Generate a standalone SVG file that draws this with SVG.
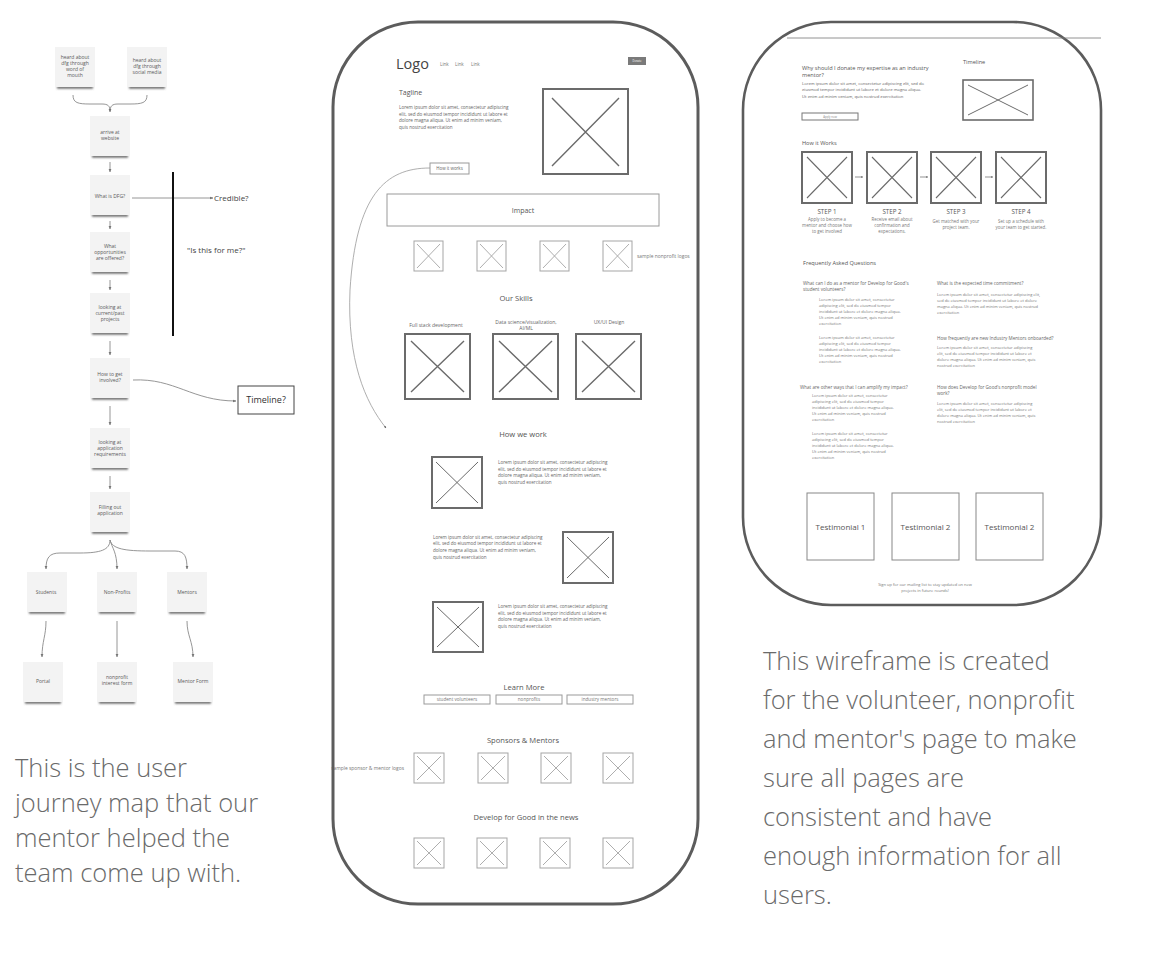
<svg xmlns="http://www.w3.org/2000/svg" width="1160" height="962" viewBox="0 0 1160 962">
<style>
text{font-family:"Open Sans","Liberation Sans",sans-serif;fill:#555}
.nt{font-size:5px;text-anchor:middle;fill:#5a5a5a}
.note{fill:#f3f3f3}
.sh{fill:#555;filter:url(#blur)}
.con{fill:none;stroke:#8a8a8a;stroke-width:0.9}
.frame{fill:none;stroke:#5c5c5c;stroke-width:3}
.b2{fill:#fff;stroke:#6b6b6b;stroke-width:2}
.x2{stroke:#6b6b6b;stroke-width:1.4}
.b1{fill:#fff;stroke:#a5a5a5;stroke-width:1}
.x1{stroke:#a5a5a5;stroke-width:0.9}
.box{fill:#fff;stroke:#9a9a9a;stroke-width:1}
.lo{font-size:4.6px;fill:#666}
.lo2{font-size:4.2px;fill:#666}
.lo3{font-size:4px;fill:#777}
.q{font-size:4.6px;fill:#666}
.h{font-size:7.6px;text-anchor:middle;fill:#555}
.s5{font-size:5px;fill:#666}
.cap{font-family:"Open Sans","Liberation Sans",sans-serif;font-weight:300;font-size:25.5px;fill:#6a6a6a}
.mid{text-anchor:middle}
</style>
<defs>
<filter id="blur" x="-20%" y="-200%" width="140%" height="500%"><feGaussianBlur stdDeviation="0.9"/></filter>
<marker id="ah" viewBox="0 0 10 10" refX="9" refY="5" markerWidth="4" markerHeight="4" orient="auto"><path d="M0,1 L10,5 L0,9 Z" fill="#777"/></marker>
<marker id="ahs" viewBox="0 0 10 10" refX="9" refY="5" markerWidth="3" markerHeight="3" orient="auto"><path d="M0,1 L10,5 L0,9 Z" fill="#555"/></marker>
</defs>
<rect width="1160" height="962" fill="#fff"/>

<!-- Journey map connectors -->
<g id="connectors">
<path class="con" d="M73,95 C73,103 78,104 90,104 L102,104 C108,104 110,106 110,111"/>
<path class="con" d="M147,95 C147,103 142,104 130,104 L118,104 C112,104 110,106 110,112" marker-end="url(#ah)"/>
<path class="con" d="M110,162 L110,172" marker-end="url(#ah)"/>
<path class="con" d="M110,221 L110,229" marker-end="url(#ah)"/>
<path class="con" d="M110,280 L110,290" marker-end="url(#ah)"/>
<path class="con" d="M110,341 L110,355" marker-end="url(#ah)"/>
<path class="con" d="M110,406 L110,425" marker-end="url(#ah)"/>
<path class="con" d="M110,476 L110,489" marker-end="url(#ah)"/>
<path class="con" d="M110,540 C110,550 100,553 80,553 L60,553 C49,553 46,558 46,569" marker-end="url(#ah)"/>
<path class="con" d="M110,540 C112,548 117,552 117,569" marker-end="url(#ah)"/>
<path class="con" d="M110,540 C112,549 125,551 150,551 L175,551 C185,551 187,557 187,569" marker-end="url(#ah)"/>
<path class="con" d="M46,621 C46,636 42,641 42,657" marker-end="url(#ah)"/>
<path class="con" d="M117,621 L117,657" marker-end="url(#ah)"/>
<path class="con" d="M187,621 C187,636 193,641 193,657" marker-end="url(#ah)"/>
<path class="con" d="M133,380 C175,378 192,401 236,401" marker-end="url(#ah)"/>
<path class="con" d="M132,198 L213,198" marker-end="url(#ah)"/>
<path d="M430,168 C385,168 356,195 350,290 C347,360 365,402 386,428" fill="none" stroke="#999" stroke-width="0.8" marker-end="url(#ahs)"/>
<path d="M855,177 L863,177" stroke="#666" stroke-width="0.7" marker-end="url(#ahs)"/>
<path d="M920,177 L928,177" stroke="#666" stroke-width="0.7" marker-end="url(#ahs)"/>
<path d="M985,177 L993,177" stroke="#666" stroke-width="0.7" marker-end="url(#ahs)"/>
</g>

<!-- Journey map nodes -->
<g id="n-word"><rect class="sh" x="57" y="86" width="36" height="2.5"/><rect class="note" x="55" y="47" width="40" height="40"/><text class="nt"><tspan x="75" y="59">heard about</tspan><tspan x="75" y="65">dfg through</tspan><tspan x="75" y="71">word of</tspan><tspan x="75" y="77">mouth</tspan></text></g>
<g id="n-social"><rect class="sh" x="129" y="86" width="36" height="2.5"/><rect class="note" x="127" y="47" width="40" height="40"/><text class="nt"><tspan x="147" y="62">heard about</tspan><tspan x="147" y="68">dfg through</tspan><tspan x="147" y="74">social media</tspan></text></g>
<g id="n-arrive"><rect class="sh" x="92" y="155" width="36" height="2.5"/><rect class="note" x="90" y="116" width="40" height="40"/><text class="nt"><tspan x="110" y="134">arrive at</tspan><tspan x="110" y="140">website</tspan></text></g>
<g id="n-dfg"><rect class="sh" x="92" y="214" width="36" height="2.5"/><rect class="note" x="90" y="175" width="40" height="40"/><text class="nt"><tspan x="110" y="198">What is DFG?</tspan></text></g>
<g id="n-opps"><rect class="sh" x="92" y="271" width="36" height="2.5"/><rect class="note" x="90" y="232" width="40" height="40"/><text class="nt"><tspan x="110" y="248">What</tspan><tspan x="110" y="254">opportunities</tspan><tspan x="110" y="260">are offered?</tspan></text></g>
<g id="n-projects"><rect class="sh" x="92" y="332" width="36" height="2.5"/><rect class="note" x="90" y="293" width="40" height="40"/><text class="nt"><tspan x="110" y="309">looking at</tspan><tspan x="110" y="315">current/past</tspan><tspan x="110" y="321">projects</tspan></text></g>
<g id="n-involved"><rect class="sh" x="92" y="397" width="36" height="2.5"/><rect class="note" x="90" y="358" width="40" height="40"/><text class="nt"><tspan x="110" y="376">How to get</tspan><tspan x="110" y="382">involved?</tspan></text></g>
<g id="n-reqs"><rect class="sh" x="92" y="467" width="36" height="2.5"/><rect class="note" x="90" y="428" width="40" height="40"/><text class="nt"><tspan x="110" y="444">looking at</tspan><tspan x="110" y="450">application</tspan><tspan x="110" y="456">requirements</tspan></text></g>
<g id="n-filling"><rect class="sh" x="92" y="531" width="36" height="2.5"/><rect class="note" x="90" y="492" width="40" height="40"/><text class="nt"><tspan x="110" y="509">Filling out</tspan><tspan x="110" y="515">application</tspan></text></g>
<g id="n-students"><rect class="sh" x="29" y="611" width="36" height="2.5"/><rect class="note" x="27" y="572" width="40" height="40"/><text class="nt"><tspan x="46" y="594">Students</tspan></text></g>
<g id="n-nonprofits"><rect class="sh" x="99" y="611" width="36" height="2.5"/><rect class="note" x="97" y="572" width="40" height="40"/><text class="nt"><tspan x="117" y="594">Non-Profits</tspan></text></g>
<g id="n-mentors"><rect class="sh" x="169" y="611" width="36" height="2.5"/><rect class="note" x="167" y="572" width="40" height="40"/><text class="nt"><tspan x="187" y="594">Mentors</tspan></text></g>
<g id="n-portal"><rect class="sh" x="25" y="701" width="36" height="2.5"/><rect class="note" x="23" y="662" width="40" height="40"/><text class="nt"><tspan x="43" y="683">Portal</tspan></text></g>
<g id="n-npform"><rect class="sh" x="99" y="701" width="36" height="2.5"/><rect class="note" x="97" y="662" width="40" height="40"/><text class="nt"><tspan x="117" y="679">nonprofit</tspan><tspan x="117" y="685">interest form</tspan></text></g>
<g id="n-mform"><rect class="sh" x="175" y="701" width="36" height="2.5"/><rect class="note" x="173" y="662" width="40" height="40"/><text class="nt"><tspan x="193" y="683">Mentor Form</tspan></text></g>
<g id="n-timeline"><rect x="238" y="386" width="56" height="28" fill="#fff" stroke="#444" stroke-width="1"/><text x="266" y="403" class="mid" style="font-size:9px;fill:#333">Timeline?</text></g>
<g id="n-credible"><text x="214" y="201" style="font-size:8px;fill:#444">Credible?</text></g>
<g id="n-forme"><text x="187" y="253" style="font-size:8px;fill:#444">"Is this for me?"</text></g>
<line x1="173" y1="172" x2="173" y2="336" stroke="#111" stroke-width="2"/>

<!-- Left caption -->
<text class="cap"><tspan x="15" y="777">This is the user</tspan><tspan x="15" y="812">journey map that our</tspan><tspan x="15" y="847">mentor helped the</tspan><tspan x="15" y="882">team come up with.</tspan></text>

<!-- Middle wireframe -->
<g id="wireframe-home">
<text x="404" y="769.5" class="lo3" text-anchor="end" style="font-size:4.9px">sample sponsor &amp; mentor logos</text>
<rect class="frame" x="333" y="22" width="365" height="882" rx="85" ry="85"/>
<text x="396" y="69" style="font-size:14.5px;fill:#444">Logo</text>
<text style="font-size:4.6px;fill:#777"><tspan x="440" y="66">Link</tspan><tspan x="455" y="66">Link</tspan><tspan x="471" y="66">Link</tspan></text>
<rect x="628" y="57" width="18" height="8" fill="#7a7a7a"/>
<text x="637" y="62" class="mid" style="font-size:2.6px;fill:#fff">Donate</text>
<text x="399" y="95" style="font-size:7px;fill:#555">Tagline</text>
<text class="lo"><tspan x="399" y="109">Lorem ipsum dolor sit amet, consectetur adipiscing</tspan><tspan x="399" y="115.7">elit, sed do eiusmod tempor incididunt ut labore et</tspan><tspan x="399" y="122.4">dolore magna aliqua. Ut enim ad minim veniam,</tspan><tspan x="399" y="129.1">quis nostrud exercitation</tspan></text>
<rect class="b2" x="543" y="89" width="85" height="85"/><path class="x2" d="M552,98 L619,166 M619,98 L552,166"/>
<rect class="box" x="430" y="163" width="39" height="11"/><text x="449.5" y="170" class="mid" style="font-size:4.4px;fill:#666">How it works</text>
<rect class="box" x="387" y="194" width="272" height="32"/><text x="523" y="213" class="mid" style="font-size:7px;fill:#555">Impact</text>
<rect class="b1" x="414" y="241" width="29" height="30"/><path class="x1" d="M417,244 L440,268 M440,244 L417,268"/>
<rect class="b1" x="477" y="241" width="29" height="30"/><path class="x1" d="M480,244 L503,268 M503,244 L480,268"/>
<rect class="b1" x="540" y="241" width="29" height="30"/><path class="x1" d="M543,244 L566,268 M566,244 L543,268"/>
<rect class="b1" x="603" y="241" width="29" height="30"/><path class="x1" d="M606,244 L629,268 M629,244 L606,268"/>
<text x="637" y="258" class="lo3" style="font-size:4.9px">sample nonprofit logos</text>
<text x="516" y="301" class="h">Our Skills</text>
<text x="436" y="326.5" class="mid s5">Full stack development</text>
<text class="mid s5"><tspan x="526" y="323.5">Data science/visualization,</tspan><tspan x="526" y="330">AI/ML</tspan></text>
<text x="609" y="323.5" class="mid s5">UX/UI Design</text>
<rect class="b2" x="405" y="334" width="65" height="65"/><path class="x2" d="M411,341 L464,392 M464,341 L411,392"/>
<rect class="b2" x="493" y="334" width="65" height="65"/><path class="x2" d="M499,341 L552,392 M552,341 L499,392"/>
<rect class="b2" x="576" y="334" width="65" height="65"/><path class="x2" d="M582,341 L635,392 M635,341 L582,392"/>
<text x="523" y="437" class="h">How we work</text>
<rect class="b2" x="432" y="457" width="50" height="51"/><path class="x2" d="M436,462 L478,503 M478,462 L436,503" style="stroke-width:1"/>
<text class="lo"><tspan x="498" y="464">Lorem ipsum dolor sit amet, consectetur adipiscing</tspan><tspan x="498" y="470.7">elit, sed do eiusmod tempor incididunt ut labore et</tspan><tspan x="498" y="477.4">dolore magna aliqua. Ut enim ad minim veniam,</tspan><tspan x="498" y="484.1">quis nostrud exercitation</tspan></text>
<text class="lo"><tspan x="433" y="538.5">Lorem ipsum dolor sit amet, consectetur adipiscing</tspan><tspan x="433" y="545.2">elit, sed do eiusmod tempor incididunt ut labore et</tspan><tspan x="433" y="551.9">dolore magna aliqua. Ut enim ad minim veniam,</tspan><tspan x="433" y="558.6">quis nostrud exercitation</tspan></text>
<rect class="b2" x="563" y="532" width="50" height="51"/><path class="x2" d="M567,537 L609,578 M609,537 L567,578" style="stroke-width:1"/>
<rect class="b2" x="433" y="602" width="50" height="50"/><path class="x2" d="M437,607 L479,647 M479,607 L437,647" style="stroke-width:1"/>
<text class="lo"><tspan x="498" y="608">Lorem ipsum dolor sit amet, consectetur adipiscing</tspan><tspan x="498" y="614.7">elit, sed do eiusmod tempor incididunt ut labore et</tspan><tspan x="498" y="621.4">dolore magna aliqua. Ut enim ad minim veniam,</tspan><tspan x="498" y="628.1">quis nostrud exercitation</tspan></text>
<text x="524" y="689.5" class="h">Learn More</text>
<rect class="box" x="424" y="695" width="66" height="9"/><text x="457" y="701.3" class="mid lo3" style="font-size:4.6px">student volunteers</text>
<rect class="box" x="496" y="695" width="66" height="9"/><text x="529" y="701.3" class="mid lo3" style="font-size:4.6px">nonprofits</text>
<rect class="box" x="567" y="695" width="66" height="9"/><text x="600" y="701.3" class="mid lo3" style="font-size:4.6px">industry mentors</text>
<text x="523" y="743" class="h">Sponsors &amp; Mentors</text>
<rect class="b1" x="414" y="753" width="30" height="30"/><path class="x1" d="M417,756 L441,780 M441,756 L417,780"/>
<rect class="b1" x="478" y="753" width="30" height="30"/><path class="x1" d="M481,756 L505,780 M505,756 L481,780"/>
<rect class="b1" x="541" y="753" width="30" height="30"/><path class="x1" d="M544,756 L568,780 M568,756 L544,780"/>
<rect class="b1" x="603" y="753" width="30" height="30"/><path class="x1" d="M606,756 L630,780 M630,756 L606,780"/>
<text x="526" y="819.5" class="h">Develop for Good in the news</text>
<rect class="b1" x="414" y="838" width="30" height="30"/><path class="x1" d="M417,841 L441,865 M441,841 L417,865"/>
<rect class="b1" x="477" y="838" width="30" height="30"/><path class="x1" d="M480,841 L504,865 M504,841 L480,865"/>
<rect class="b1" x="540" y="838" width="30" height="30"/><path class="x1" d="M543,841 L567,865 M567,841 L543,865"/>
<rect class="b1" x="603" y="838" width="30" height="30"/><path class="x1" d="M606,841 L630,865 M630,841 L606,865"/>
</g>

<!-- Right wireframe -->
<g id="wireframe-mentor">
<rect class="frame" x="743" y="22" width="358" height="583" rx="88" ry="88" style="stroke-width:2.6"/>
<line x1="787" y1="38" x2="1101" y2="38" stroke="#777" stroke-width="0.8"/>
<text style="font-size:5.6px;fill:#555"><tspan x="802" y="70">Why should I donate my expertise as an industry</tspan><tspan x="802" y="77">mentor?</tspan></text>
<text class="lo2"><tspan x="802" y="84.5">Lorem ipsum dolor sit amet, consectetur adipiscing elit, sed do</tspan><tspan x="802" y="91.2">eiusmod tempor incididunt ut labore et dolore magna aliqua.</tspan><tspan x="802" y="97.9">Ut enim ad minim veniam, quis nostrud exercitation</tspan></text>
<rect class="box" x="802" y="113" width="56" height="7" style="stroke:#777"/><text x="830" y="118" class="mid" style="font-size:2.8px;fill:#888">Apply now</text>
<text x="963" y="64" style="font-size:5.6px;fill:#555">Timeline</text>
<rect class="b2" x="963" y="80" width="70" height="40" style="stroke-width:1.6"/><path class="x2" d="M968,85 L1028,115 M1028,85 L968,115" style="stroke-width:1"/>
<text x="802" y="144.5" style="font-size:5.6px;fill:#555">How it Works</text>
<rect class="b2" x="802" y="152" width="50" height="51"/><path class="x2" d="M807,157 L847,198 M847,157 L807,198" style="stroke-width:1.1"/>
<rect class="b2" x="867" y="152" width="50" height="51"/><path class="x2" d="M872,157 L912,198 M912,157 L872,198" style="stroke-width:1.1"/>
<rect class="b2" x="931" y="152" width="50" height="51"/><path class="x2" d="M936,157 L976,198 M976,157 L936,198" style="stroke-width:1.1"/>
<rect class="b2" x="996" y="152" width="50" height="51"/><path class="x2" d="M1001,157 L1041,198 M1041,157 L1001,198" style="stroke-width:1.1"/>
<text style="font-size:6.2px;fill:#555;text-anchor:middle"><tspan x="827" y="214">STEP 1</tspan><tspan x="892" y="214">STEP 2</tspan><tspan x="956" y="214">STEP 3</tspan><tspan x="1021" y="214">STEP 4</tspan></text>
<text class="lo3 mid" style="font-size:4.4px"><tspan x="827" y="220.5">Apply to become a</tspan><tspan x="827" y="226.5">mentor and choose how</tspan><tspan x="827" y="232.5">to get involved</tspan></text>
<text class="lo3 mid" style="font-size:4.4px"><tspan x="892" y="220.5">Receive email about</tspan><tspan x="892" y="226.5">confirmation and</tspan><tspan x="892" y="232.5">expectations.</tspan></text>
<text class="lo3 mid" style="font-size:4.4px"><tspan x="956" y="223">Get matched with your</tspan><tspan x="956" y="229">project team.</tspan></text>
<text class="lo3 mid" style="font-size:4.4px"><tspan x="1021" y="223">Set up a schedule with</tspan><tspan x="1021" y="229">your team to get started.</tspan></text>
<text x="803" y="265" style="font-size:5.6px;fill:#555">Frequently Asked Questions</text>
<text class="q"><tspan x="803" y="284.5">What can I do as a mentor for Develop for Good's</tspan><tspan x="803" y="291">student volunteers?</tspan></text>
<text class="lo3"><tspan x="819" y="300.5">Lorem ipsum dolor sit amet, consectetur</tspan><tspan x="819" y="306.5">adipiscing elit, sed do eiusmod tempor</tspan><tspan x="819" y="312.5">incididunt ut labore et dolore magna aliqua.</tspan><tspan x="819" y="318.5">Ut enim ad minim veniam, quis nostrud</tspan><tspan x="819" y="324.5">exercitation</tspan></text>
<text class="lo3"><tspan x="819" y="338.5">Lorem ipsum dolor sit amet, consectetur</tspan><tspan x="819" y="344.5">adipiscing elit, sed do eiusmod tempor</tspan><tspan x="819" y="350.5">incididunt ut labore et dolore magna aliqua.</tspan><tspan x="819" y="356.5">Ut enim ad minim veniam, quis nostrud</tspan><tspan x="819" y="362.5">exercitation</tspan></text>
<text class="q"><tspan x="800" y="388.5">What are other ways that I can amplify my impact?</tspan></text>
<text class="lo3"><tspan x="812" y="396.5">Lorem ipsum dolor sit amet, consectetur</tspan><tspan x="812" y="402.5">adipiscing elit, sed do eiusmod tempor</tspan><tspan x="812" y="408.5">incididunt ut labore et dolore magna aliqua.</tspan><tspan x="812" y="414.5">Ut enim ad minim veniam, quis nostrud</tspan><tspan x="812" y="420.5">exercitation</tspan></text>
<text class="lo3"><tspan x="812" y="434.5">Lorem ipsum dolor sit amet, consectetur</tspan><tspan x="812" y="440.5">adipiscing elit, sed do eiusmod tempor</tspan><tspan x="812" y="446.5">incididunt ut labore et dolore magna aliqua.</tspan><tspan x="812" y="452.5">Ut enim ad minim veniam, quis nostrud</tspan><tspan x="812" y="458.5">exercitation</tspan></text>
<text class="q"><tspan x="937" y="284.5">What is the expected time commitment?</tspan></text>
<text class="lo3"><tspan x="937" y="295.5">Lorem ipsum dolor sit amet, consectetur adipiscing elit,</tspan><tspan x="937" y="301.5">sed do eiusmod tempor incididunt ut labore et dolore</tspan><tspan x="937" y="307.5">magna aliqua. Ut enim ad minim veniam, quis nostrud</tspan><tspan x="937" y="313.5">exercitation</tspan></text>
<text class="q"><tspan x="937" y="339.5">How frequently are new Industry Mentors onboarded?</tspan></text>
<text class="lo3"><tspan x="937" y="348.5">Lorem ipsum dolor sit amet, consectetur adipiscing</tspan><tspan x="937" y="354.5">elit, sed do eiusmod tempor incididunt ut labore et</tspan><tspan x="937" y="360.5">dolore magna aliqua. Ut enim ad minim veniam, quis</tspan><tspan x="937" y="366.5">nostrud exercitation</tspan></text>
<text class="q"><tspan x="937" y="388.5">How does Develop for Good's nonprofit model</tspan><tspan x="937" y="395">work?</tspan></text>
<text class="lo3"><tspan x="937" y="404.5">Lorem ipsum dolor sit amet, consectetur adipiscing</tspan><tspan x="937" y="410.5">elit, sed do eiusmod tempor incididunt ut labore et</tspan><tspan x="937" y="416.5">dolore magna aliqua. Ut enim ad minim veniam, quis</tspan><tspan x="937" y="422.5">nostrud exercitation</tspan></text>
<rect class="box" x="807" y="493" width="67" height="67" style="stroke:#888"/><text x="840.5" y="529.5" class="mid" style="font-size:8px;fill:#555">Testimonial 1</text>
<rect class="box" x="892" y="493" width="67" height="67" style="stroke:#888"/><text x="925.5" y="529.5" class="mid" style="font-size:8px;fill:#555">Testimonial 2</text>
<rect class="box" x="976" y="493" width="67" height="67" style="stroke:#888"/><text x="1009.5" y="529.5" class="mid" style="font-size:8px;fill:#555">Testimonial 2</text>
<text class="lo3 mid"><tspan x="925" y="585.5">Sign up for our mailing list to stay updated on new</tspan><tspan x="925" y="592">projects in future rounds!</tspan></text>
</g>

<!-- Right caption -->
<text class="cap"><tspan x="763" y="670">This wireframe is created</tspan><tspan x="763" y="709">for the volunteer, nonprofit</tspan><tspan x="763" y="748">and mentor's page to make</tspan><tspan x="763" y="787">sure all pages are</tspan><tspan x="763" y="826">consistent and have</tspan><tspan x="763" y="865">enough information for all</tspan><tspan x="763" y="904">users.</tspan></text>
</svg>
